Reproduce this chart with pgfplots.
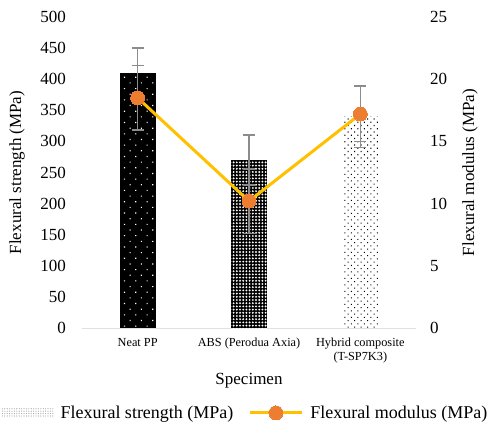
\documentclass[border=0pt]{standalone}
\usepackage{fontspec}
\setmainfont{Liberation Serif}
\usepackage{pgfplots}
\pgfplotsset{compat=1.18}
\usetikzlibrary{patterns.meta}
\definecolor{errgray}{HTML}{8C8C8C}
\definecolor{lineyel}{HTML}{FFC000}
\definecolor{mkorange}{HTML}{ED7D31}
\newcommand{\tickfont}{\fontsize{17bp}{19bp}\selectfont}
\newcommand{\legfont}{\fontsize{18bp}{20bp}\selectfont}
\newcommand{\catfont}{\fontsize{12.3bp}{13.8bp}\selectfont}
\begin{document}
\begin{tikzpicture}
\pgfplotsset{
  common/.style={
    at={(0bp,0bp)}, anchor=south west,
    scale only axis, width=334bp, height=311bp,
    xmin=-0.5, xmax=2.5,
    major tick length=0pt,
    /pgf/number format/assume math mode=true,
    ticklabel style={font=\tickfont},
    label style={font=\tickfont},
  },
  errs/.style={
    error bars/y dir=both, error bars/y explicit,
    error bars/error bar style={errgray, line width=1.5bp},
    error bars/error mark options={rotate=90, mark size=6bp, line width=1.5bp, errgray},
  },
}
\begin{axis}[common,
  ymin=0, ymax=500, ytick={0,50,...,500},
  axis x line*=bottom, axis y line*=left,
  x axis line style={draw=black!12, line width=1bp, -},
  y axis line style={draw=none},
  xtick={0,1,2},
  xticklabels={Neat PP, ABS (Perodua Axia), {Hybrid composite\\(T-SP7K3)}},
  xticklabel style={font=\catfont, align=center, inner sep=0pt, anchor=north, yshift=-10bp},
  yticklabel style={inner sep=0pt, anchor=east, xshift=-16bp},
  xlabel={Specimen},
  xlabel style={at={(axis description cs:0.5,-0.1704)}, anchor=center},
  ylabel={Flexural strength (MPa)},
  ylabel style={at={(axis description cs:-0.1946,0.5)}, anchor=center, rotate=0},
]
\addplot[ybar, bar width=36bp, bar shift=0pt, draw=none, fill=black,
  postaction={pattern={Dots[distance=8bp, radius=0.8bp, angle=45]}, pattern color=white}, errs]
  coordinates {(0,410) +- (0,40)};
\addplot[ybar, bar width=36bp, bar shift=0pt, draw=none, fill=black,
  postaction={pattern={Dots[distance=3.2bp, radius=1.05bp]}, pattern color=white}, errs]
  coordinates {(1,270) +- (0,40)};
\addplot[ybar, bar width=36bp, bar shift=0pt, draw=none, fill=white,
  postaction={pattern={Dots[distance=4.6bp, radius=0.75bp, angle=45]}, pattern color=black}, errs]
  coordinates {(2,340) +- (0,50)};
\end{axis}
\begin{axis}[common,
  ymin=0, ymax=25, ytick={0,5,...,25},
  axis y line*=right, axis x line=none,
  y axis line style={draw=none},
  yticklabel style={inner sep=0pt, anchor=west, xshift=14bp},
  ylabel={Flexural modulus (MPa)},
  ylabel style={at={(axis description cs:1.1617,0.5)}, anchor=center, rotate=0},
  legend style={at={(axis description cs:0.488,-0.273)}, anchor=center, draw=none,
    fill=none, legend columns=2, font=\legfont,
    /tikz/every even column/.append style={column sep=13bp},
    /tikz/every odd column/.append style={column sep=5bp},
    legend cell align=left, inner sep=0pt},
  legend image code/.code={\draw[mark repeat=2,mark phase=2,#1] plot coordinates {(0bp,0bp) (26bp,0bp) (52bp,0bp)};},
]
\addlegendimage{legend image code/.code={\path[draw=none, pattern={Dots[distance=2.4bp, radius=0.6bp]}, pattern color=black!35] (0bp,-4.5bp) rectangle (53bp,4.5bp);}}
\addlegendentry{Flexural strength (MPa)}
\addplot[lineyel, line width=3bp, mark=*, mark size=7bp,
  mark options={fill=mkorange, draw=mkorange, line width=0pt}, errs]
  coordinates {(0,18.5) +- (0,2.6) (1,10.2) +- (0,2.6) (2,17.2) +- (0,2.2)};
\addlegendentry{Flexural modulus (MPa)}
\end{axis}
\pgfresetboundingbox
\path (-82bp,-100bp) rectangle (407bp,328bp);
\end{tikzpicture}
\end{document}
